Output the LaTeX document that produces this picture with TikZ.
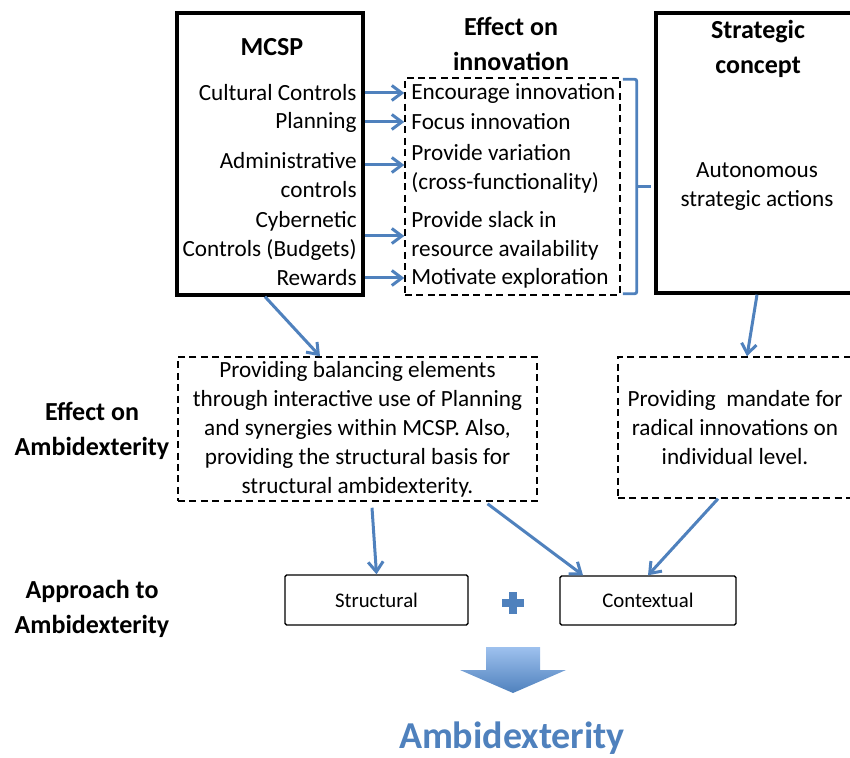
\documentclass[tikz,border=0pt]{standalone}
\usepackage{fontspec}
\setmainfont{Carlito}
\usetikzlibrary{arrows.meta}
\definecolor{azul}{RGB}{79,129,189}
\definecolor{azulclaro}{RGB}{158,193,238}
\begin{document}
\begin{tikzpicture}[x=0.5pt, y=-0.5pt,
        texto/.style={inner sep=0pt, font=\fontsize{11.6}{14.5}\selectfont},
        titulo/.style={inner sep=0pt, align=center, font=\bfseries\fontsize{13}{17.5}\selectfont},
        caixa/.style={draw, line width=1.7pt},
        tracejada/.style={draw, line width=0.75pt, dash pattern=on 3.5pt off 2.2pt},
        simples/.style={draw, line width=0.7pt, rounded corners=0.8pt, font=\fontsize{10.4}{12}\selectfont},
        seta/.style={draw=azul, line width=1.5pt, -{Straight Barb[length=5pt, width=7.5pt]}}]
        \useasboundingbox (0,0) rectangle (850,758);
        % Caixas de cima
        \node[caixa, minimum width=93pt, minimum height=141pt] (M) at (270,154) {};
        \node[caixa, minimum width=101pt, minimum height=140pt] (S) at (757,153) {};
        \node[tracejada, minimum width=107.5pt, minimum height=108.5pt] (E) at (512.5,186.5) {};
        % Titulos
        \node[titulo] (tM) at (272,47) {MCSP};
        \node[titulo] (tE) at (511,44) {Effect on\\innovation};
        \node[titulo] (tS) at (758,49) {Strategic\\concept};
        \node[texto, align=center] (aut) at (757,187) {Autonomous\\strategic actions};
        % Elementos do MCSP
        \node[texto, anchor=east] (c1) at (357,93) {Cultural Controls};
        \node[texto, anchor=east] (c2) at (357,122) {Planning};
        \node[texto, anchor=east, align=right] (c3) at (357,175) {Administrative\\controls};
        \node[texto, anchor=east, align=right] (c4) at (357,236) {Cybernetic\\Controls (Budgets)};
        \node[texto, anchor=east] (c5) at (357,278) {Rewards};
        % Efeitos na inovacao
        \node[texto, anchor=west] (e1) at (411,93) {Encourage innovation};
        \node[texto, anchor=west] (e2) at (411,122) {Focus innovation};
        \node[texto, anchor=west, align=left] (e3) at (411,169) {Provide variation\\(cross-functionality)};
        \node[texto, anchor=west, align=left] (e4) at (411,236) {Provide slack in\\resource availability};
        \node[texto, anchor=west] (e5) at (411,278) {Motivate exploration};
        % Liga os elementos aos efeitos
        \draw[seta] (M.east |- c1) -- (E.west |- c1);
        \draw[seta] (M.east |- c2) -- (E.west |- c2);
        \draw[seta] ([yshift=5pt]M.east |- c3) -- ([yshift=5pt]E.west |- c3);
        \draw[seta] (M.east |- c4) -- (E.west |- c4);
        \draw[seta] (M.east |- c5) -- (E.west |- c5);
        % Chave ate o conceito estrategico
        \draw[azul, line width=1.4pt, rounded corners=1pt] ([xshift=1pt, yshift=-1pt]E.north east) -| ([xshift=8pt]E.east) |- ([xshift=1pt, yshift=1pt]E.south east);
        \draw[azul, line width=1.4pt] ([xshift=8pt]E.east) -- ++(7pt,0);
        % Efeito na ambidestria
        \node[titulo] (eA) at (92,431) {Effect on\\Ambidexterity};
        \node[tracejada, texto, align=center, minimum width=179.5pt, minimum height=72pt] (B) at (357.5,429) {Providing balancing elements\\through interactive use of Planning\\and synergies within MCSP. Also,\\providing the structural basis for\\structural ambidexterity.};
        \node[tracejada, texto, align=center, minimum width=117pt, minimum height=70.5pt] (R) at (735,427.5) {Providing\ \ mandate for\\radical innovations on\\individual level.};
        \draw[seta] ([xshift=-2.5pt]M.south) -- ([xshift=-18.75pt]B.north);
        \draw[seta] (S.south) -- ([xshift=6pt]R.north);
        % Abordagem
        \node[titulo] (aA) at (92,609) {Approach to\\Ambidexterity};
        \node[simples, minimum width=91.5pt, minimum height=25pt] (ST) at (376.5,600) {Structural};
        \node[simples, minimum width=88pt, minimum height=24.5pt] (CT) at (648,600.5) {Contextual};
        \draw[seta] ([xshift=7.25pt, yshift=-3pt]B.south) -- (ST.north);
        \draw[seta] ([xshift=65pt, yshift=-1pt]B.south) -- ([xshift=-32.5pt]CT.north);
        \draw[seta] ([xshift=-8.5pt]R.south) -- (CT.north);
        % Sinal de mais e seta grande
        \draw[azul, line width=4pt] (502,603) -- (524,603) (513,592) -- (513,614);
        \shade[top color=azulclaro, bottom color=azul] (486,647) -- (540,647) -- (540,670) -- (566,670) -- (513,693) -- (460,670) -- (486,670) -- cycle;
        \node[inner sep=0pt, anchor=base, text=azul, font=\bfseries\fontsize{19}{22}\selectfont] (amb) at (512,748) {Ambidexterity};
    \end{tikzpicture}
\end{document}
